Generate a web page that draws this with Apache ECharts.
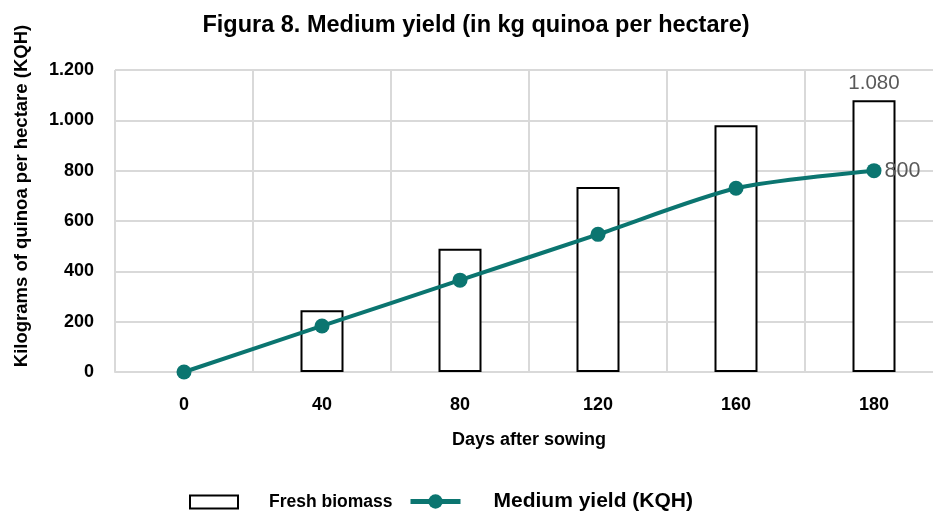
<!DOCTYPE html>
<html><head><meta charset="utf-8">
<script src="https://cdn.jsdelivr.net/npm/echarts@6/dist/echarts.min.js"></script>
<style>html,body{margin:0;padding:0;background:#fff}#c{width:933px;height:516px}</style>
</head><body><div id="c"></div>
<script>
const categories = ['0','40','80','120','160','180'];
const freshBiomass = [0, 245, 490, 735, 980, 1080];
const mediumYield = [0, 183, 365, 547, 730, 800];
const yTicks = [0, 200, 400, 600, 800, 1000, 1200];

const fmt = v => String(v).replace(/\B(?=(\d{3})+(?!\d))/g, '.');
const FONT = '"Liberation Sans", Arial, sans-serif';
const green = '#0b7570';

const chart = echarts.init(document.getElementById('c'));
chart.setOption({
  animation: false,
  title: {
    text: 'Figura 8. Medium yield (in kg quinoa per hectare)',
    left: 471, top: 9, textAlign: 'center',
    textStyle: {fontFamily: FONT, fontWeight: 'bold', fontSize: 23.5, color: '#000'}
  },
  grid: {left: 115, width: 828, top: 70, bottom: 144, outerBoundsMode: 'none', containLabel: false},
  legend: [
    {
      left: 189, top: 493, padding: 0,
      itemWidth: 48, itemHeight: 13,
      textStyle: {fontFamily: FONT, fontWeight: 'bold', fontSize: 17.5, color: '#000', padding: [0,0,0,26]},
      data: [{name: 'Fresh biomass', icon: 'rect', itemStyle: {color: '#fff', borderColor: '#000', borderWidth: 2}}]
    },
    {
      left: 408, top: 491, padding: 0,
      itemWidth: 50, itemHeight: 18,
      textStyle: {fontFamily: FONT, fontWeight: 'bold', fontSize: 21, color: '#000', padding: [4,0,0,28]},
      data: [{name: 'Medium yield (KQH)', itemStyle: {color: green}, lineStyle: {color: green, width: 5}}]
    }
  ],
  xAxis: {
    type: 'category', data: categories, boundaryGap: true,
    name: 'Days after sowing', nameLocation: 'middle', nameGap: 59,
    nameTextStyle: {fontFamily: FONT, fontWeight: 'bold', fontSize: 18, color: '#000'},
    axisLine: {show: true, lineStyle: {color: '#d9d9d9', width: 2}},
    axisTick: {show: false},
    axisLabel: {fontFamily: FONT, fontWeight: 'bold', fontSize: 18, color: '#000', margin: 24},
    splitLine: {show: true, lineStyle: {color: '#d9d9d9', width: 2}}
  },
  yAxis: {
    type: 'value', min: 0, max: 1200, interval: 200,
    axisLine: {show: false}, axisTick: {show: false},
    axisLabel: {fontFamily: FONT, fontWeight: 'bold', fontSize: 18, color: '#000', margin: 21,
      formatter: v => yTicks.includes(v) ? fmt(v) : ''},
    splitLine: {show: true, lineStyle: {color: '#d9d9d9', width: 2}}
  },
  graphic: [{
    type: 'text', x: 22, y: 196, rotation: Math.PI / 2,
    style: {text: 'Kilograms of quinoa per hectare (KQH)', fontFamily: FONT, fontWeight: 'bold', fontSize: 18.5,
      fill: '#000', align: 'center', verticalAlign: 'middle'}
  }],
  series: [
    {
      name: 'Fresh biomass', type: 'bar', barWidth: 43,
      data: freshBiomass.map(v => v === 0 ? {value: v, itemStyle: {borderWidth: 0, opacity: 0}} : v),
      itemStyle: {color: '#fff', borderColor: '#000', borderWidth: 2},
      label: {show: true, position: 'top', distance: 6, fontFamily: FONT, fontSize: 20.5, color: '#595959',
        formatter: p => p.dataIndex === freshBiomass.length - 1 ? fmt(p.value) : ''},
      z: 2
    },
    {
      name: 'Medium yield (KQH)', type: 'line', data: mediumYield, smooth: 0.25,
      symbol: 'circle', symbolSize: 15,
      lineStyle: {color: green, width: 4},
      itemStyle: {color: green},
      label: {show: true, position: 'right', distance: 3, fontFamily: FONT, fontSize: 21.5, color: '#595959',
        formatter: p => p.dataIndex === mediumYield.length - 1 ? fmt(p.value) : ''},
      z: 3
    }
  ]
});
</script></body></html>
